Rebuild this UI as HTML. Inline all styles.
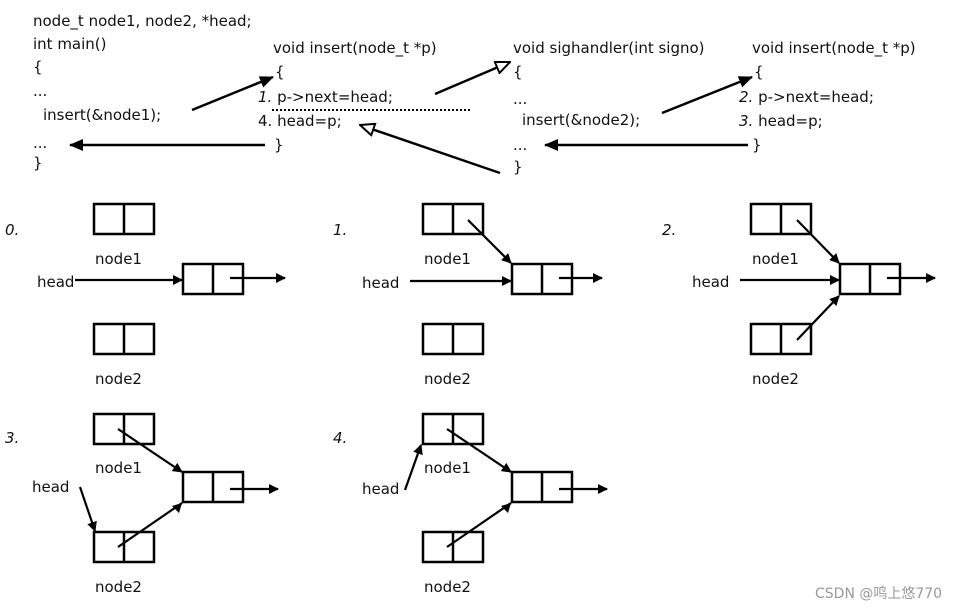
<!DOCTYPE html>
<html><head><meta charset="utf-8"><style>
body{margin:0;background:#fff}
svg{display:block}
text{font-family:"DejaVu Sans","Liberation Sans",sans-serif;font-size:15px;fill:#111}
.i{font-style:italic}
</style></head><body>
<svg width="979" height="609" viewBox="0 0 979 609">
<defs>
<marker id="f" markerWidth="10" markerHeight="10" refX="9" refY="5" orient="auto" markerUnits="userSpaceOnUse"><path d="M0,0 L10,5 L0,10 z" fill="#000"/></marker>
<marker id="fs" markerWidth="14" markerHeight="12" refX="13" refY="6" orient="auto" markerUnits="userSpaceOnUse"><path d="M0,0 L14,6 L0,12 z" fill="#000"/></marker>
<marker id="o" markerWidth="16" markerHeight="14" refX="15" refY="7" orient="auto" markerUnits="userSpaceOnUse"><path d="M1,1 L15,7 L1,13 z" fill="#fff" stroke="#000" stroke-width="2"/></marker>
<g id="box"><rect x="0" y="0" width="60" height="30" fill="none" stroke="#000" stroke-width="2.5"/><line x1="30" y1="0" x2="30" y2="30" stroke="#000" stroke-width="2.5"/></g>
</defs>
<!-- code -->
<text x="33" y="26">node_t node1, node2, *head;</text>
<text x="33" y="49">int main()</text>
<text x="33" y="72">{</text>
<text x="33" y="96">...</text>
<text x="43" y="120">insert(&amp;node1);</text>
<text x="33" y="148">...</text>
<text x="33" y="168">}</text>
<text x="273" y="53">void insert(node_t *p)</text>
<text x="275" y="77">{</text>
<text x="258" y="102"><tspan class="i">1.</tspan>  p-&gt;next=head;</text>
<text x="258" y="126">4.  head=p;</text>
<text x="274" y="150">}</text>
<line x1="272" y1="110" x2="472" y2="110" stroke="#000" stroke-width="2" stroke-dasharray="2,2"/>
<text x="513" y="53">void sighandler(int signo)</text>
<text x="513" y="77">{</text>
<text x="513" y="104">...</text>
<text x="522" y="125">insert(&amp;node2);</text>
<text x="513" y="150">...</text>
<text x="513" y="172">}</text>
<text x="752" y="53">void insert(node_t *p)</text>
<text x="754" y="77">{</text>
<text x="739" y="102"><tspan class="i">2.</tspan>  p-&gt;next=head;</text>
<text x="739" y="126"><tspan class="i">3.</tspan>  head=p;</text>
<text x="752" y="150">}</text>
<g stroke="#000" stroke-width="2.5" fill="none">
<line x1="192" y1="110" x2="273" y2="77" marker-end="url(#fs)"/>
<line x1="265" y1="145" x2="70" y2="145" marker-end="url(#fs)"/>
<line x1="435" y1="94" x2="510" y2="62" marker-end="url(#o)"/>
<line x1="500" y1="173" x2="360" y2="125" marker-end="url(#o)"/>
<line x1="662" y1="113" x2="752" y2="77" marker-end="url(#fs)"/>
<line x1="748" y1="145" x2="545" y2="145" marker-end="url(#fs)"/>
</g>
<!-- panel labels -->
<text x="5" y="235" class="i">0.</text>
<text x="333" y="235" class="i">1.</text>
<text x="662" y="235" class="i">2.</text>
<text x="5" y="443" class="i">3.</text>
<text x="333" y="443" class="i">4.</text>
<!-- panels top row -->
<g>
<use href="#box" x="94" y="204"/><use href="#box" x="183" y="264"/><use href="#box" x="94" y="324"/>
<text x="95" y="264">node1</text><text x="95" y="384">node2</text><text x="37" y="287">head</text>
</g>
<g transform="translate(329,0)">
<use href="#box" x="94" y="204"/><use href="#box" x="183" y="264"/><use href="#box" x="94" y="324"/>
<text x="95" y="264">node1</text><text x="95" y="384">node2</text><text x="33" y="288">head</text>
</g>
<g transform="translate(657,0)">
<use href="#box" x="94" y="204"/><use href="#box" x="183" y="264"/><use href="#box" x="94" y="324"/>
<text x="95" y="264">node1</text><text x="95" y="384">node2</text><text x="35" y="287">head</text>
</g>
<g stroke="#000" stroke-width="2.2" fill="none">
<line x1="75" y1="280" x2="182" y2="280" marker-end="url(#f)"/>
<line x1="230" y1="278" x2="285" y2="278" marker-end="url(#f)"/>
<line x1="410" y1="281" x2="511" y2="281" marker-end="url(#f)"/>
<line x1="468" y1="220" x2="511" y2="263" marker-end="url(#f)"/>
<line x1="559" y1="278" x2="602" y2="278" marker-end="url(#f)"/>
<line x1="740" y1="280" x2="839" y2="280" marker-end="url(#f)"/>
<line x1="797" y1="220" x2="839" y2="263" marker-end="url(#f)"/>
<line x1="797" y1="340" x2="839" y2="296" marker-end="url(#f)"/>
<line x1="887" y1="278" x2="935" y2="278" marker-end="url(#f)"/>
</g>
<!-- bottom row -->
<g>
<use href="#box" x="94" y="414"/><use href="#box" x="183" y="472"/><use href="#box" x="94" y="532"/>
<text x="95" y="473">node1</text><text x="95" y="592">node2</text><text x="32" y="492">head</text>
</g>
<g transform="translate(329,0)">
<use href="#box" x="94" y="414"/><use href="#box" x="183" y="472"/><use href="#box" x="94" y="532"/>
<text x="95" y="473">node1</text><text x="95" y="592">node2</text><text x="33" y="494">head</text>
</g>
<g stroke="#000" stroke-width="2.2" fill="none">
<line x1="118" y1="429" x2="182" y2="472" marker-end="url(#f)" transform="translate(0,0)"/>
<line x1="118" y1="547" x2="182" y2="503" />
<line x1="80" y1="487" x2="95" y2="531" marker-end="url(#f)"/>
<line x1="230" y1="489" x2="278" y2="489" marker-end="url(#f)"/>
<line x1="447" y1="429" x2="511" y2="472" marker-end="url(#f)"/>
<line x1="447" y1="547" x2="511" y2="503"/>
<line x1="405" y1="490" x2="421" y2="445" marker-end="url(#f)"/>
<line x1="559" y1="489" x2="607" y2="489" marker-end="url(#f)"/>
</g>
<g fill="#000">
<path d="M182,503 L172,506 L179,513 z"/><path d="M511,503 L501,506 L508,513 z"/>
</g>
<text x="815" y="598" style="font-size:14px;fill:#999">CSDN @鸣上悠770</text>
</svg>
</body></html>
